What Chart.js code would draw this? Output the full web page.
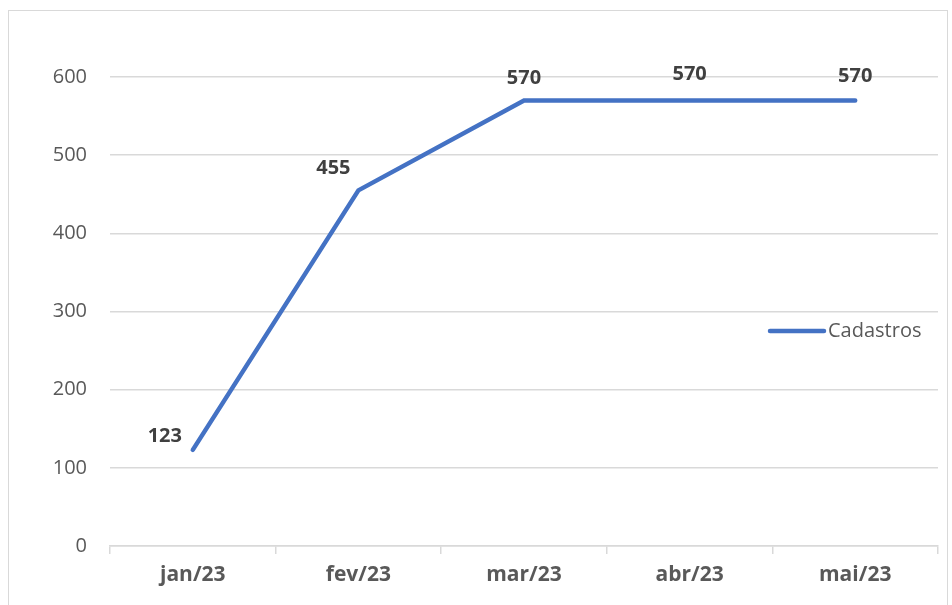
<!DOCTYPE html>
<html>
<head>
<meta charset="utf-8">
<script src="https://cdn.jsdelivr.net/npm/chart.js@4.4.0/dist/chart.umd.min.js"></script>
<style>
    body { margin: 0; background: #fff; }
    #moldura { position: absolute; left: 8px; top: 10px; width: 940px; height: 600px; border: 1px solid #d9d9d9; box-sizing: border-box; }
    #grafico { position: absolute; left: 0; top: 0; }
</style>
</head>
<body>
<div id="moldura"></div>
<canvas id="grafico" width="952" height="605"></canvas>
<script>
// Dados do gráfico
const meses = ['jan/23', 'fev/23', 'mar/23', 'abr/23', 'mai/23'];
const cadastros = [123, 455, 570, 570, 570];
const ticksY = [0, 100, 200, 300, 400, 500, 600];

// Deslocamento dos rótulos (estilo)
const deslocRotulos = [[-28, -14], [-25, -22], [0, -22], [0, -26], [0, -24]];

const fonte = "'Open Sans', 'Noto Sans', sans-serif";
const corAzul = '#4472C4';

// Plugin para rótulos de dados e legenda
const pluginRotulos = {
    id: 'rotulos',
    afterDatasetsDraw(chart) {
        const ctx = chart.ctx;
        const meta = chart.getDatasetMeta(0);
        ctx.save();
        ctx.font = `bold 20px ${fonte}`;
        ctx.fillStyle = '#404040';
        ctx.textAlign = 'center';
        ctx.textBaseline = 'middle';
        meta.data.forEach((ponto, i) => {
            const [dx, dy] = deslocRotulos[i];
            ctx.fillText(String(cadastros[i]), ponto.x + dx, ponto.y + dy);
        });

        // Legenda dentro da área do gráfico
        const y = chart.scales.y.getPixelForValue(275);
        const x0 = chart.chartArea.right - 168;
        ctx.strokeStyle = corAzul;
        ctx.lineWidth = 4.5;
        ctx.lineCap = 'round';
        ctx.beginPath();
        ctx.moveTo(x0, y);
        ctx.lineTo(x0 + 54, y);
        ctx.stroke();
        ctx.font = `20px ${fonte}`;
        ctx.fillStyle = '#595959';
        ctx.textAlign = 'left';
        ctx.fillText(chart.data.datasets[0].label, x0 + 58, y);
        ctx.restore();
    }
};

new Chart(document.getElementById('grafico'), {
    type: 'line',
    data: {
        labels: meses,
        datasets: [{
            label: 'Cadastros',
            data: cadastros,
            borderColor: corAzul,
            borderWidth: 4.5,
            borderCapStyle: 'round',
            pointRadius: 0,
            tension: 0
        }]
    },
    options: {
        responsive: false,
        animation: false,
        layout: { padding: { top: 77, right: 14, left: 0, bottom: 0 } },
        plugins: {
            legend: { display: false },
            tooltip: { enabled: false }
        },
        scales: {
            x: {
                offset: true,
                grid: {
                    offset: true,
                    drawOnChartArea: false,
                    drawTicks: true,
                    tickLength: 8,
                    color: '#d9d9d9',
                    lineWidth: 1.5
                },
                border: { color: '#d9d9d9', width: 1.5 },
                ticks: {
                    color: '#595959',
                    font: { family: fonte, size: 21, weight: 'bold' },
                    padding: 8,
                    maxRotation: 0
                },
                afterFit(scale) { scale.height = 59; }
            },
            y: {
                min: 0,
                max: 600,
                afterBuildTicks(scale) { scale.ticks = ticksY.map(v => ({ value: v })); },
                grid: { color: '#d9d9d9', lineWidth: 1.5, drawTicks: false },
                border: { display: false },
                ticks: {
                    color: '#595959',
                    font: { family: fonte, size: 20 },
                    padding: 23
                },
                afterFit(scale) { scale.width = 110; }
            }
        }
    },
    plugins: [pluginRotulos]
});
</script>
</body>
</html>
